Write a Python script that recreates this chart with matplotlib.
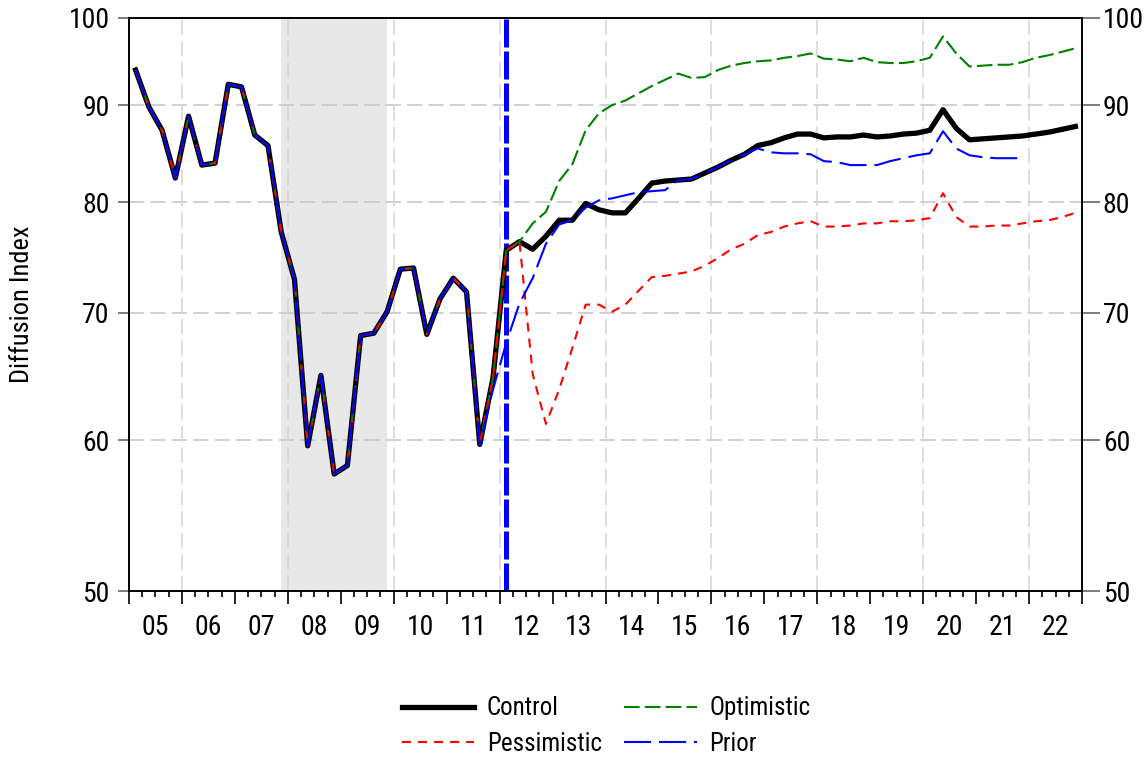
import numpy as np
import matplotlib
matplotlib.use('Agg')
from matplotlib import pyplot as plt
from matplotlib.ticker import FixedLocator, FixedFormatter, NullLocator, NullFormatter

plt.rcParams['font.family'] = ['Roboto Condensed', 'DejaVu Sans']

first_year, last_year = 2005, 2022
year_labels = ['05', '06', '07', '08', '09', '10', '11', '12', '13',
               '14', '15', '16', '17', '18', '19', '20', '21', '22']
y_ticks = [50, 60, 70, 80, 90, 100]

# quarterly history 2005Q1-2011Q4 (shared by all scenarios)
history = [93.9, 89.8, 87.3, 82.4, 88.8, 83.7, 83.9, 92.3, 92.0, 86.8, 85.7, 77.2,
           72.9, 59.6, 64.9, 57.6, 58.2, 68.1, 68.3, 70.1, 73.8, 73.9, 68.2, 71.2,
           73.0, 71.8, 59.7, 64.7]
# 2012Q1-2022Q4
control_fcst = [75.5, 76.3, 75.6, 76.8, 78.3, 78.3, 79.9, 79.3, 79.0, 79.0, 80.4, 81.9,
                82.1, 82.2, 82.3, 82.9, 83.5, 84.2, 84.8, 85.7, 86.0, 86.5, 86.9, 86.9,
                86.5, 86.6, 86.6, 86.8, 86.6, 86.7, 86.9, 87.0, 87.3, 89.5, 87.5, 86.3,
                86.4, 86.5, 86.6, 86.7, 86.9, 87.1, 87.4, 87.7]
# 2012Q3-2022Q4
optimistic_fcst = [78.0, 79.1, 82.1, 83.8, 87.3, 89.1, 90.0, 90.5, 91.3, 92.1, 92.8, 93.5,
                   93.0, 93.1, 93.9, 94.4, 94.7, 94.9, 95.0, 95.3, 95.5, 95.8, 95.2, 95.1,
                   94.9, 95.3, 94.8, 94.7, 94.7, 94.9, 95.3, 97.8, 95.8, 94.3, 94.4, 94.5,
                   94.5, 94.8, 95.3, 95.6, 96.0, 96.4]
pessimistic_fcst = [65.0, 61.2, 63.8, 67.1, 70.7, 70.7, 70.1, 70.7, 71.9, 73.1, 73.2, 73.4,
                    73.6, 74.1, 74.8, 75.6, 76.1, 76.9, 77.2, 77.7, 78.0, 78.2, 77.7, 77.7,
                    77.8, 78.0, 78.0, 78.2, 78.2, 78.3, 78.5, 80.9, 78.6, 77.7, 77.7, 77.8,
                    77.8, 78.0, 78.2, 78.3, 78.6, 79.0]
# 2011Q4-2021Q4
prior_fcst = [63.8, 67.5, 70.8, 73.0, 76.1, 77.9, 78.3, 79.5, 80.2, 80.4, 80.7, 81.0,
              81.1, 81.2, 82.2, 82.3, 82.9, 83.5, 84.2, 84.8, 85.4, 85.0, 84.9, 84.9,
              84.8, 84.1, 84.0, 83.7, 83.7, 83.7, 84.1, 84.4, 84.7, 84.9, 87.2, 85.4,
              84.7, 84.5, 84.4, 84.4, 84.4]
recession = (2007.875, 2009.875)
forecast_start = 2012.125

control = history + control_fcst
optimistic = history + control_fcst[:2] + optimistic_fcst
pessimistic = history + control_fcst[:2] + pessimistic_fcst
prior = history[:27] + prior_fcst

t = first_year + 0.125 + 0.25 * np.arange(len(control))

fig = plt.figure(figsize=(11.47, 7.58), dpi=100)
ax = fig.add_axes([129 / 1147, 1 - 591 / 758, (1082 - 129) / 1147, (591 - 18) / 758])

ax.axvspan(*recession, color='#e8e8e8', lw=0, zorder=0)
for v in y_ticks[1:-1]:
    ax.axhline(v, color='#c4c4c4', lw=1.1, dashes=(10, 4), zorder=1)
for yr in range(first_year + 1, last_year + 1, 2):
    ax.axvline(yr, color='#d4d4d4', lw=1.1, dashes=(10, 4), zorder=1)
ax.axvline(forecast_start, color='#0000ff', lw=3.6, dashes=(5.6, 0.8), zorder=2)

ax.plot(t, control, color='black', lw=3.8, label='Control', zorder=3)
ax.plot(t, optimistic, color='#008000', lw=1.5, dashes=(7.5, 2.5), label='Optimistic', zorder=4)
ax.plot(t, pessimistic, color='#ff0000', lw=1.5, dashes=(4.3, 3.4), label='Pessimistic', zorder=5)
ax.plot(t[:len(prior)], prior, color='#0000ff', lw=1.5, dashes=(13, 3.8), label='Prior', zorder=6)

ax.set_yscale('log')
ax.set_ylim(50, 100)
ax.set_xlim(first_year, last_year + 1)
ax.yaxis.set_major_locator(FixedLocator(y_ticks))
ax.yaxis.set_major_formatter(FixedFormatter([str(v) for v in y_ticks]))
ax.yaxis.set_minor_locator(NullLocator())
ax.yaxis.set_minor_formatter(NullFormatter())
ax.tick_params(axis='y', length=8, width=1.2, color='#666666', pad=6, labelsize=20)

ax2 = ax.twinx()
ax2.set_yscale('log')
ax2.set_ylim(50, 100)
ax2.yaxis.set_major_locator(FixedLocator(y_ticks))
ax2.yaxis.set_major_formatter(FixedFormatter([str(v) for v in y_ticks]))
ax2.yaxis.set_minor_locator(NullLocator())
ax2.yaxis.set_minor_formatter(NullFormatter())
ax2.tick_params(axis='y', length=13, width=1.2, color='#666666', pad=2, labelsize=20)

# year boundaries as long ticks, quarters as short ticks, labels mid-year
ax.xaxis.set_major_locator(FixedLocator(np.arange(first_year, last_year + 2)))
ax.xaxis.set_major_formatter(NullFormatter())
q_pos = [y + q for y in range(first_year, last_year + 1) for q in (0.25, 0.5, 0.75)]
q_lab = [year_labels[int(p) - first_year] if p % 1 == 0.5 else '' for p in q_pos]
ax.xaxis.set_minor_locator(FixedLocator(q_pos))
ax.xaxis.set_minor_formatter(FixedFormatter(q_lab))
ax.tick_params(axis='x', which='major', length=9, width=1.2, color='black')
ax.tick_params(axis='x', which='minor', length=4.5, width=1.2, color='black', pad=12, labelsize=20)

for a in (ax, ax2):
    for s in a.spines.values():
        s.set_linewidth(1.2)

ax.set_ylabel('Diffusion Index', fontsize=19)
ax.yaxis.set_label_coords(-0.1, 0.5)

handles, labels = ax.get_legend_handles_labels()
order = [0, 2, 1, 3]
fig.legend([handles[i] for i in order], [labels[i] for i in order], ncol=2, frameon=False,
           loc='center', bbox_to_anchor=(606 / 1147, 1 - 726 / 758), fontsize=18,
           handlelength=2.9, handletextpad=0.5, columnspacing=0.9, labelspacing=0.45)

plt.savefig('out.png', dpi=100)
